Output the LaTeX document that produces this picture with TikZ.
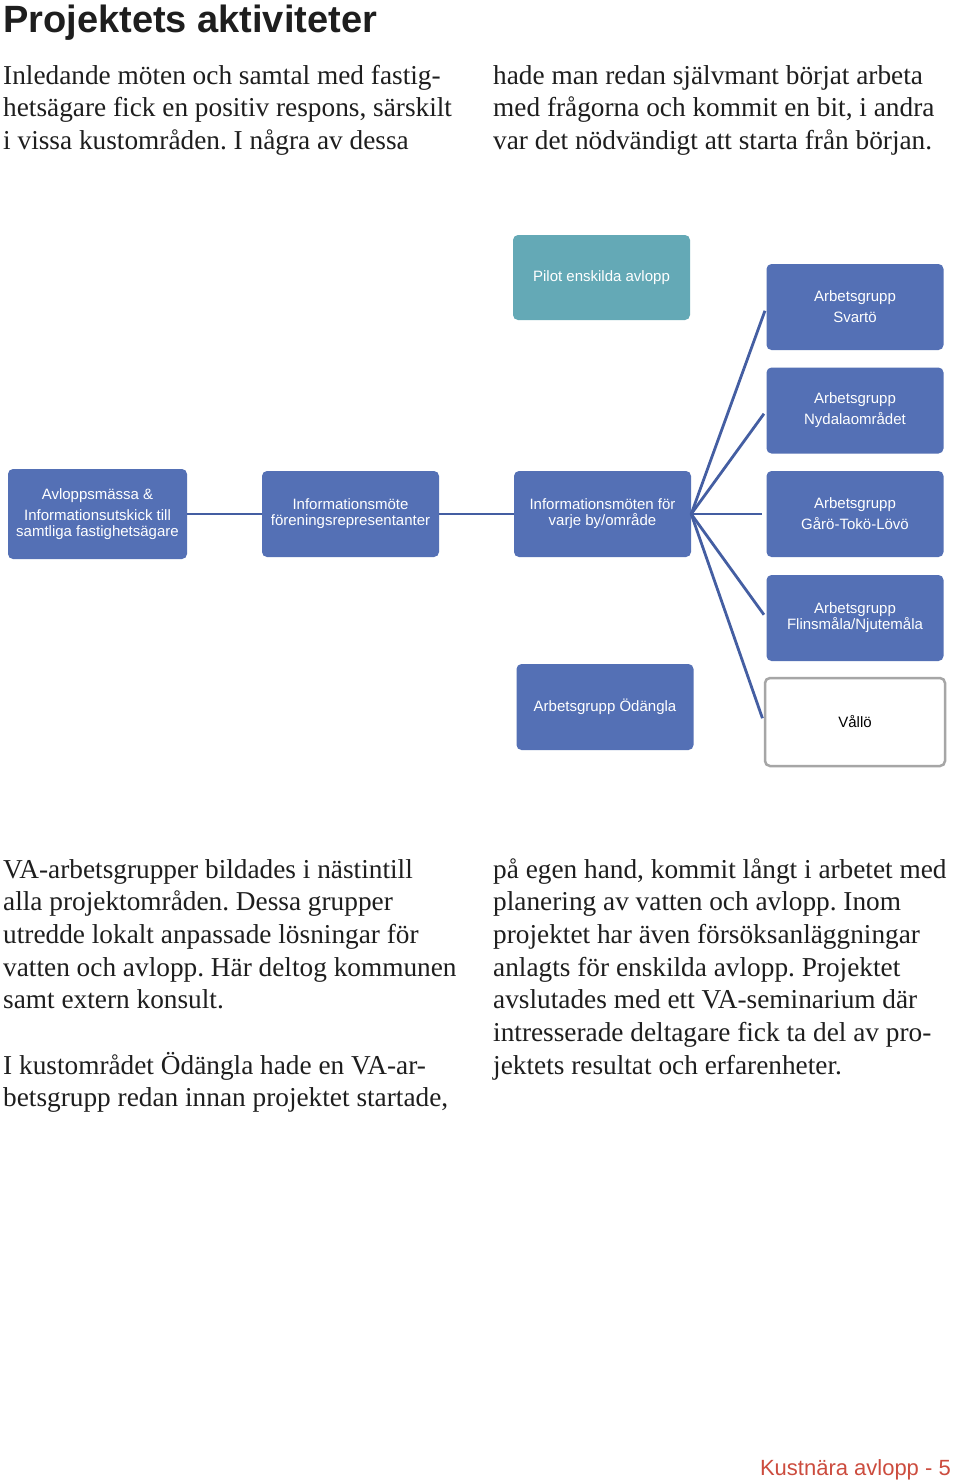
\documentclass[tikz,border=0pt]{standalone}
\usepackage{fontspec}
\setmainfont{Liberation Serif}
\newfontfamily\boxfont{Liberation Sans}
\usetikzlibrary{positioning}
\definecolor{boxblue}{RGB}{84,112,181}
\definecolor{pilotteal}{RGB}{100,169,182}
\definecolor{linkblue}{RGB}{68,94,162}
\definecolor{pagered}{RGB}{204,76,62}
\definecolor{inkgray}{RGB}{30,30,30}
\def\rowsep{32.7}
\frenchspacing

\begin{document}
\begin{tikzpicture}[x=1pt,y=-1pt]
    \tikzstyle{box}=[rectangle, rounded corners=5pt, fill=boxblue, text=white, minimum width=177pt, minimum height=86pt, inner sep=2pt, align=center, font=\boxfont\fontsize{15}{16}\selectfont]
    \tikzstyle{group box}=[box, font=\boxfont\fontsize{15}{21}\selectfont]
    \tikzstyle{pilot box}=[box, fill=pilotteal]
    \tikzstyle{open box}=[box, fill=white, text=black, draw=gray!70, line width=2.5pt, minimum width=180pt, minimum height=88pt]
    \tikzstyle{link}=[draw=linkblue, line width=2.8pt]
    \tikzstyle{body}=[anchor=base west, inner sep=0pt, text=inkgray, font=\fontsize{27.3}{32}\selectfont]

    \fill[white] (0,0) rectangle (960,1484);
    \useasboundingbox (0,0) rectangle (960,1484);

    % Heading and the text above the chart
    \node[anchor=base west, inner sep=0pt, text=inkgray, font=\boxfont\bfseries\fontsize{38}{40}\selectfont] (title) at (3,32) {Projektets aktiviteter};
    \foreach \t [count=\i] in {{Inledande möten och samtal med fastig-}, {hetsägare fick en positiv respons, särskilt}, {i vissa kustområden. I några av dessa}}
        \node[body] (intro-l-\i) at (3,{84+32.5*(\i-1)}) {\t};
    \foreach \t [count=\i] in {{hade man redan självmant börjat arbeta}, {med frågorna och kommit en bit, i andra}, {var det nödvändigt att starta från början.}}
        \node[body] (intro-r-\i) at (493,{84+32.5*(\i-1)}) {\t};

    % Draw the chain of meetings
    \node[box, minimum width=179pt, minimum height=90pt] (avlopp) at (97.5,514) {Avloppsmässa \&\\[5pt]Informationsutskick till\\samtliga fastighetsägare};
    \node[box] (infomote) at (350.5,514) {Informationsmöte\\föreningsrepresentanter};
    \node[box] (infomoten) at (602.5,514) {Informationsmöten för\\varje by/område};
    \node[pilot box, minimum height=85pt] (pilot) at (601.5,277.5) {Pilot enskilda avlopp};
    \node[box] (odangla) at (605,707) {Arbetsgrupp Ödängla};

    % Draw the working groups
    \node[group box] (svarto) at (855,307) {Arbetsgrupp\\Svartö};
    \node[group box] (nydala) at (855,410.5) {Arbetsgrupp\\Nydalaområdet};
    \node[group box] (garo) at (855,514) {Arbetsgrupp\\Gårö-Tokö-Lövö};
    \node[box] (flinsmala) at (855,618) {Arbetsgrupp\\Flinsmåla/Njutemåla};
    \node[open box] (vallo) at (855,722) {Vållö};

    \draw[link] (avlopp) -- (infomote);
    \draw[link] (infomote) -- (infomoten);
    \foreach \dest in {svarto, nydala, garo, flinsmala, vallo}
        \draw[link, shorten >=4pt] (infomoten.east) -- (\dest.west);

    % Text below the chart
    \foreach \r/\t in {0/{VA-arbetsgrupper bildades i nästintill}, 1/{alla projektområden. Dessa grupper}, 2/{utredde lokalt anpassade lösningar för}, 3/{vatten och avlopp. Här deltog kommunen}, 4/{samt extern konsult.}, 6/{I kustområdet Ödängla hade en VA-ar-}, 7/{betsgrupp redan innan projektet startade,}}
        \node[body] (outro-l-\r) at (3,{878+\rowsep*\r}) {\t};
    \foreach \r/\t in {0/{på egen hand, kommit långt i arbetet med}, 1/{planering av vatten och avlopp. Inom}, 2/{projektet har även försöksanläggningar}, 3/{anlagts för enskilda avlopp. Projektet}, 4/{avslutades med ett VA-seminarium där}, 5/{intresserade deltagare fick ta del av pro-}, 6/{jektets resultat och erfarenheter.}}
        \node[body] (outro-r-\r) at (493,{878+\rowsep*\r}) {\t};

    \node[anchor=base east, inner sep=0pt, text=pagered, font=\boxfont\fontsize{22}{24}\selectfont] (footer) at (951,1475) {Kustnära avlopp - 5};
\end{tikzpicture}
\end{document}
